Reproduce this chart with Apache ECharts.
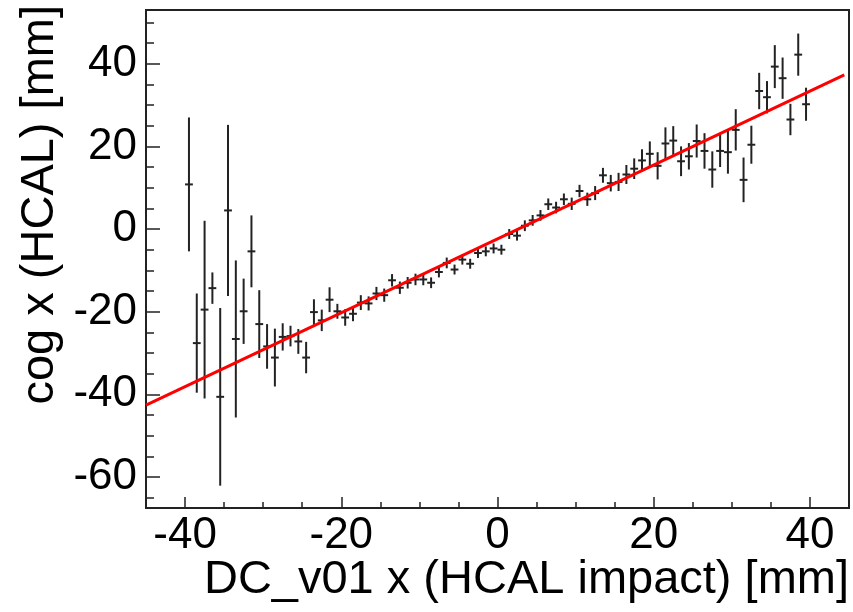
<!DOCTYPE html>
<html>
<head>
<meta charset="utf-8">
<script src="https://cdn.jsdelivr.net/npm/echarts@6/dist/echarts.min.js"></script>
<style>
  html, body { margin: 0; padding: 0; background: #fff; }
  #main { width: 853px; height: 612px; }
</style>
</head>
<body>
<div id="main"></div>
<script>
// bin centres of the profile (1 mm bins)
var binX = [
    -39.5, -38.5, -37.5, -36.5, -35.5, -34.5, -33.5, -32.5, -31.5, -30.5,
    -29.5, -28.5, -27.5, -26.5, -25.5, -24.5, -23.5, -22.5, -21.5, -20.5,
    -19.5, -18.5, -17.5, -16.5, -15.5, -14.5, -13.5, -12.5, -11.5, -10.5,
    -9.5, -8.5, -7.5, -6.5, -5.5, -4.5, -3.5, -2.5, -1.5, -0.5,
    0.5, 1.5, 2.5, 3.5, 4.5, 5.5, 6.5, 7.5, 8.5, 9.5,
    10.5, 11.5, 12.5, 13.5, 14.5, 15.5, 16.5, 17.5, 18.5, 19.5,
    20.5, 21.5, 22.5, 23.5, 24.5, 25.5, 26.5, 27.5, 28.5, 29.5,
    30.5, 31.5, 32.5, 33.5, 34.5, 35.5, 36.5, 37.5, 38.5, 39.5
];
// mean cog x per bin
var cogY = [
    10.8, -27.6, -19.5, -14.3, -40.6, 4.5, -26.6, -19.9, -5.4, -23.0,
    -28.4, -31.1, -26.1, -25.9, -27.2, -31.1, -20.1, -22.1, -17.1, -19.9,
    -21.4, -20.5, -17.8, -18.0, -15.6, -16.0, -12.4, -14.2, -13.0, -12.2,
    -12.2, -13.0, -10.4, -8.2, -9.8, -7.4, -8.4, -5.8, -5.4, -4.7,
    -5.0, -1.2, -1.6, 0.8, 2.1, 3.3, 6.0, 5.2, 7.2, 6.1,
    9.2, 7.2, 8.7, 13.0, 11.1, 11.4, 13.2, 14.6, 16.6, 18.2,
    15.3, 20.7, 21.4, 16.4, 17.6, 21.3, 18.9, 14.4, 18.9, 18.6,
    24.0, 11.9, 20.4, 33.4, 31.9, 39.3, 36.5, 26.5, 42.2, 30.2
];
// error on the mean
var cogErr = [
    16.2, 12.0, 21.5, 3.8, 21.5, 20.7, 19.0, 7.9, 8.7, 8.2,
    5.4, 7.0, 3.3, 2.5, 3.0, 3.8, 3.1, 2.6, 3.0, 1.8,
    2.0, 1.8, 1.8, 1.7, 1.6, 1.6, 1.5, 1.5, 1.4, 1.4,
    1.4, 1.3, 1.3, 1.3, 1.2, 1.2, 1.2, 1.2, 1.2, 1.2,
    1.2, 1.2, 1.2, 1.3, 1.3, 1.3, 1.4, 1.4, 1.4, 1.5,
    1.5, 1.6, 1.7, 1.8, 2.0, 2.2, 2.3, 2.5, 2.7, 3.0,
    3.3, 3.9, 3.5, 3.6, 3.2, 4.0, 4.3, 4.4, 3.9, 5.2,
    5.0, 5.4, 4.6, 4.4, 3.9, 5.2, 5.0, 3.8, 5.1, 4.0
];
// linear fit, end points
var fitX = [-45, 44.4];
var fitY = [-42.6, 37.3];

// axis ticks
var xLabels = [-40, -20, 0, 20, 40];
var xMinor = [-35, -30, -25, -15, -10, -5, 5, 10, 15, 25, 30, 35];
var yLabels = [-60, -40, -20, 0, 20, 40];
var yMinor = [-65, -55, -50, -45, -35, -30, -25, -15, -10, -5, 5, 10, 15, 25, 30, 35, 45, 50];

var xTitle = 'DC_v01 x (HCAL impact) [mm]';
var yTitle = 'cog x (HCAL) [mm]';

var FONT = 'Liberation Sans';
var INK = '#222';

var points = [];
for (var i = 0; i < binX.length; i++) {
    points.push([binX[i], cogY[i], cogErr[i]]);
}
var fitLine = [];
for (var j = 0; j < fitX.length; j++) {
    fitLine.push([fitX[j], fitY[j]]);
}

function renderErrorBar(params, api) {
    var x = api.value(0);
    var y = api.value(1);
    var e = api.value(2);
    var top = api.coord([x, y + e]);
    var bot = api.coord([x, y - e]);
    var l = api.coord([x - 0.5, y]);
    var r = api.coord([x + 0.5, y]);
    var style = { stroke: INK, lineWidth: 2 };
    return {
        type: 'group',
        children: [
            { type: 'line', shape: { x1: top[0], y1: top[1], x2: bot[0], y2: bot[1] }, style: style },
            { type: 'line', shape: { x1: l[0], y1: l[1], x2: r[0], y2: r[1] }, style: style }
        ]
    };
}

var chart = echarts.init(document.getElementById('main'));
var option = {
    animation: false,
    backgroundColor: '#fff',
    grid: {
        left: 146,
        right: 4,
        top: 10,
        bottom: 104,
        show: true,
        borderColor: INK,
        borderWidth: 2
    },
    xAxis: [{
        type: 'value',
        min: -45,
        max: 45,
        axisLine: { show: false, onZero: false },
        splitLine: { show: false },
        axisTick: { inside: true, length: 11, customValues: xLabels, lineStyle: { color: INK, width: 1.5 } },
        axisLabel: { customValues: xLabels, margin: 6, fontSize: 44, fontFamily: FONT, color: '#000' }
    }, {
        type: 'value',
        min: -45,
        max: 45,
        position: 'bottom',
        axisLine: { show: false, onZero: false },
        splitLine: { show: false },
        axisLabel: { show: false },
        axisTick: { inside: true, length: 6, customValues: xMinor, lineStyle: { color: INK, width: 1.5 } }
    }],
    yAxis: [{
        type: 'value',
        min: -67.5,
        max: 53,
        axisLine: { show: false, onZero: false },
        splitLine: { show: false },
        axisTick: { inside: true, length: 14, customValues: yLabels, lineStyle: { color: INK, width: 1.5 } },
        axisLabel: { customValues: yLabels, margin: 9, fontSize: 44, fontFamily: FONT, color: '#000' }
    }, {
        type: 'value',
        min: -67.5,
        max: 53,
        position: 'left',
        axisLine: { show: false, onZero: false },
        splitLine: { show: false },
        axisLabel: { show: false },
        axisTick: { inside: true, length: 8, customValues: yMinor, lineStyle: { color: INK, width: 1.5 } }
    }],
    graphic: [{
        type: 'text',
        x: 849,
        y: 580,
        style: {
            text: xTitle,
            textAlign: 'right',
            textVerticalAlign: 'middle',
            font: '47px "Liberation Sans"',
            fill: '#000'
        }
    }, {
        type: 'text',
        x: 40,
        y: 5,
        rotation: Math.PI / 2,
        style: {
            text: yTitle,
            textAlign: 'right',
            textVerticalAlign: 'middle',
            font: '47px "Liberation Sans"',
            fill: '#000'
        }
    }],
    series: [{
        name: 'profile',
        type: 'custom',
        xAxisIndex: 0,
        yAxisIndex: 0,
        renderItem: renderErrorBar,
        data: points,
        z: 2
    }, {
        name: 'fit',
        type: 'line',
        xAxisIndex: 0,
        yAxisIndex: 0,
        data: fitLine,
        symbol: 'none',
        lineStyle: { color: '#ff0000', width: 3 },
        z: 3
    }]
};
chart.setOption(option);
</script>
</body>
</html>
